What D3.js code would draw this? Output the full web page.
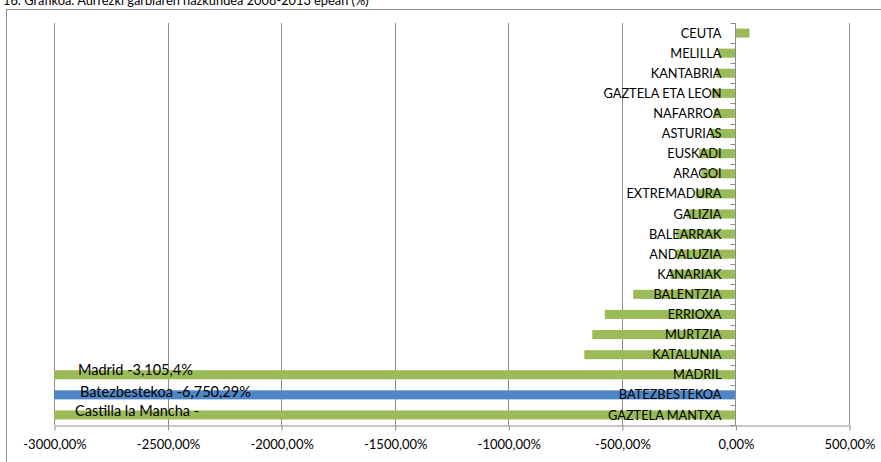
<!DOCTYPE html>
<html>
<head>
<meta charset="utf-8">
<script src="https://cdn.jsdelivr.net/npm/d3@7"></script>
<style>
  html, body { margin: 0; padding: 0; background: #fff; }
  svg { display: block; font-family: Lato, "Open Sans", "Liberation Sans", sans-serif; }
</style>
</head>
<body>
<svg id="chart" width="881" height="462"></svg>
<script>
const title = "16. Grafikoa. Aurrezki garbiaren hazkundea 2008-2013 epean (%)";
const categories = ["CEUTA","MELILLA","KANTABRIA","GAZTELA ETA LEON","NAFARROA","ASTURIAS","EUSKADI","ARAGOI","EXTREMADURA","GALIZIA","BALEARRAK","ANDALUZIA","KANARIAK","BALENTZIA","ERRIOXA","MURTZIA","KATALUNIA","MADRIL","BATEZBESTEKOA","GAZTELA MANTXA"];
const values = [62, -75, -85, -105, -95, -110, -160, -150, -175, -215, -262, -262, -288, -450, -575, -630, -665, -3105.4, -6750.29, -3500];
const highlight = ["BATEZBESTEKOA"];
const tickValues = [-3000, -2500, -2000, -1500, -1000, -500, 0, 500];
const tickLabels = ["-3000,00%","-2500,00%","-2000,00%","-1500,00%","-1000,00%","-500,00%","0,00%","500,00%"];
const annotCats = ["MADRIL","BATEZBESTEKOA","GAZTELA MANTXA"];
const annotTexts = ["Madrid -3,105,4%","Batezbestekoa -6,750,29%","Castilla la Mancha -"];
const annotOffsets = [78, 80, 75];
const annotRaise = [4.5, 3.5, 4];

const svg = d3.select("#chart");
const green = "#9BBB59", blue = "#4F86C6", grid = "#8c8c8c";

// Outer frame (extends beyond the picture on right and bottom)
svg.append("rect").attr("x", 6.5).attr("y", 9.5).attr("width", 900).attr("height", 480)
  .attr("fill", "none").attr("stroke", "#8c8c8c").attr("stroke-width", 1);

// Title (cut off at top in reference)
svg.append("text").attr("x", 3).attr("y", 4.5).attr("font-size", 12.8).attr("fill", "#000").text(title);

const x = d3.scaleLinear().domain([-3000, 500]).range([54, 849]).clamp(true);
const y = d3.scaleBand().domain(categories).range([23, 425]).paddingInner(0.55).paddingOuter(0.275);

// Gridlines
svg.append("g").selectAll("line").data(tickValues).join("line")
  .attr("x1", d => Math.round(x(d)) + 0.5).attr("x2", d => Math.round(x(d)) + 0.5)
  .attr("y1", 23).attr("y2", 425)
  .attr("stroke", grid).attr("stroke-width", 1);

// Bars
svg.append("g").selectAll("rect").data(categories).join("rect")
  .attr("x", (d, i) => Math.min(x(values[i]), x(0)))
  .attr("width", (d, i) => Math.abs(x(values[i]) - x(0)))
  .attr("y", d => y(d))
  .attr("height", y.bandwidth())
  .attr("fill", d => highlight.includes(d) ? blue : green);

// X axis
const xAxis = d3.axisBottom(x).tickValues(tickValues).tickFormat((d, i) => tickLabels[i]).tickSize(5).tickSizeOuter(0);
const gx = svg.append("g").attr("transform", "translate(0.5,425.5)").call(xAxis);
gx.select(".domain").attr("stroke", grid);
gx.selectAll(".tick line").attr("stroke", grid);
gx.selectAll(".tick text").attr("font-size", 13).attr("fill", "#000").attr("dy", "1.2em")
  .attr("font-family", "Lato, sans-serif");

// Y axis at zero with ticks at category boundaries
const x0 = Math.round(x(0)) + 0.5;
svg.append("line").attr("x1", x0).attr("x2", x0).attr("y1", 23).attr("y2", 425)
  .attr("stroke", grid);
const boundaries = d3.range(categories.length + 1).map(i => 23 + i * y.step());
svg.append("g").selectAll("line").data(boundaries).join("line")
  .attr("x1", x0 - 5).attr("x2", x0).attr("y1", d => Math.round(d) + 0.5).attr("y2", d => Math.round(d) + 0.5)
  .attr("stroke", grid);

// Category labels (drawn over bars)
svg.append("g").selectAll("text").data(categories).join("text")
  .attr("x", x0 - 14)
  .attr("y", d => y(d) + y.bandwidth() / 2)
  .attr("dy", "0.36em")
  .attr("text-anchor", "end")
  .attr("font-size", 12.8)
  .attr("fill", "#000")
  .text(d => d);

// Annotations
svg.append("g").selectAll("text").data(annotCats).join("text")
  .attr("x", (d, i) => annotOffsets[i])
  .attr("y", (d, i) => y(d) + y.bandwidth() / 2 - annotRaise[i])
  .attr("dy", "0.36em")
  .attr("font-size", 14.5)
  .attr("fill", "#000")
  .text((d, i) => annotTexts[i]);
</script>
</body>
</html>
